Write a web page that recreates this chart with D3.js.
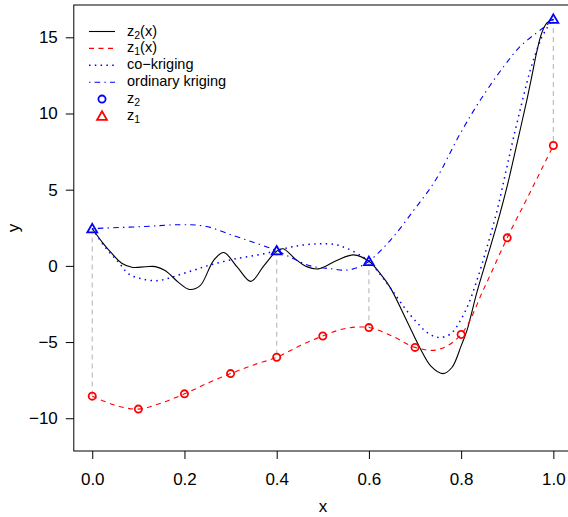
<!DOCTYPE html>
<html>
<head>
<meta charset="utf-8">
<title>co-kriging</title>
<script src="https://cdn.jsdelivr.net/npm/d3@7"></script>
<style>
  body { margin: 0; background: #fff; }
  svg { font-family: "Liberation Sans", Arial, sans-serif; }
</style>
</head>
<body>
<script>
// curves
var z2X = [0, 0.021, 0.042, 0.064, 0.086, 0.115, 0.137, 0.158, 0.187, 0.211, 0.234, 0.263, 0.285, 0.315, 0.344, 0.372, 0.4, 0.414, 0.44, 0.465, 0.49, 0.53, 0.567, 0.6, 0.625, 0.646, 0.682, 0.711, 0.735, 0.76, 0.78, 0.8, 0.813, 0.834, 0.856, 0.878, 0.9, 0.921, 0.943, 0.954, 0.964, 0.975, 0.986, 1.0];
var z2Y = [2.45, 1.58, 0.83, 0.17, -0.09, -0.06, -0.05, -0.31, -1.08, -1.55, -1.3, 0.35, 0.88, -0.1, -1.02, 0.0, 0.97, 1.12, 0.46, -0.05, -0.2, 0.35, 0.72, 0.3, -0.53, -1.41, -3.6, -5.4, -6.6, -7.07, -6.67, -5.25, -4.2, -1.75, 0.5, 2.75, 5.25, 8.0, 10.95, 12.55, 14.05, 15.3, 15.95, 16.2];

var z1X = [0, 0.05, 0.1, 0.15, 0.2, 0.25, 0.3, 0.35, 0.4, 0.45, 0.5, 0.55, 0.6, 0.65, 0.7, 0.75, 0.8, 0.85, 0.9, 0.95, 1.0];
var z1Y = [-8.55, -9.15, -9.4, -9.0, -8.4, -7.7, -7.07, -6.5, -6.0, -5.25, -4.6, -4.1, -4.05, -4.6, -5.35, -5.5, -4.5, -1.45, 1.84, 4.85, 7.9];

var ckX = [0, 0.028, 0.057, 0.079, 0.108, 0.14, 0.166, 0.194, 0.223, 0.249, 0.31, 0.372, 0.4, 0.44, 0.49, 0.527, 0.552, 0.582, 0.6, 0.632, 0.661, 0.682, 0.704, 0.726, 0.751, 0.777, 0.798, 0.816, 0.834, 0.856, 0.878, 0.896, 0.914, 0.935, 0.95, 0.964, 0.975, 0.986, 1.0];
var ckY = [2.45, 1.22, 0.24, -0.53, -0.86, -0.97, -0.81, -0.53, -0.26, 0.0, 0.46, 0.79, 1.0, 1.29, 1.45, 1.4, 1.15, 0.68, 0.3, -0.86, -2.06, -2.94, -3.71, -4.37, -4.7, -4.47, -3.6, -2.5, -0.97, 1.22, 3.64, 6.05, 8.46, 11.1, 12.85, 14.15, 15.0, 15.6, 16.2];

var okX = [0, 0.111, 0.19, 0.245, 0.306, 0.354, 0.4, 0.437, 0.473, 0.52, 0.55, 0.574, 0.6, 0.646, 0.697, 0.744, 0.798, 0.842, 0.892, 0.928, 0.964, 0.986, 1.0];
var okY = [2.45, 2.58, 2.7, 2.6, 1.99, 1.5, 1.0, 0.46, 0.0, -0.2, -0.28, -0.13, 0.3, 1.66, 3.64, 5.6, 8.68, 10.9, 13.07, 14.4, 15.3, 15.8, 16.2];

// observations
var obs2X = [0, 0.4, 0.6, 1.0];
var obs2Y = [2.45, 1.0, 0.3, 16.2];
var obs1X = [0, 0.1, 0.2, 0.3, 0.4, 0.5, 0.6, 0.7, 0.8, 0.9, 1.0];
var obs1Y = [-8.55, -9.4, -8.4, -7.07, -6.0, -4.6, -4.05, -5.35, -4.5, 1.84, 7.9];
var obs1AtObs2Y = [-8.55, -6.0, -4.05, 7.9];

var xTicks = [0, 0.2, 0.4, 0.6, 0.8, 1.0];
var yTicks = [-10, -5, 0, 5, 10, 15];

var width = 568, height = 517;

var svg = d3.select("body").append("svg")
  .attr("width", width)
  .attr("height", height);

var x = d3.scaleLinear().domain([-0.04, 1.04]).range([73.8, 571.8]);
var y = d3.scaleLinear().domain([-12.15, 17.12]).range([451, 5]);

function zip(xs, ys) { return xs.map(function(v, i) { return [v, ys[i]]; }); }

var line = d3.line()
  .x(function(d) { return x(d[0]); })
  .y(function(d) { return y(d[1]); })
  .curve(d3.curveCatmullRom.alpha(0.5));

// gray connectors
svg.append("g").selectAll("line")
  .data(obs2X)
  .enter().append("line")
  .attr("x1", function(d) { return x(d); })
  .attr("x2", function(d) { return x(d); })
  .attr("y1", function(d, i) { return y(obs2Y[i]); })
  .attr("y2", function(d, i) { return y(obs1AtObs2Y[i]); })
  .attr("stroke", "#bebebe")
  .attr("stroke-width", 1.2)
  .attr("stroke-dasharray", "5,4");

svg.append("path").datum(zip(z2X, z2Y))
  .attr("d", line).attr("fill", "none")
  .attr("stroke", "#000").attr("stroke-width", 1.1);

svg.append("path").datum(zip(z1X, z1Y))
  .attr("d", line).attr("fill", "none")
  .attr("stroke", "#ff0000").attr("stroke-width", 1.1)
  .attr("stroke-dasharray", "5,4.5");

svg.append("path").datum(zip(ckX, ckY))
  .attr("d", line).attr("fill", "none")
  .attr("stroke", "#0000ff").attr("stroke-width", 1.5)
  .attr("stroke-dasharray", "1.5,4.3");

svg.append("path").datum(zip(okX, okY))
  .attr("d", line).attr("fill", "none")
  .attr("stroke", "#0000ff").attr("stroke-width", 1.1)
  .attr("stroke-dasharray", "1.4,4.2,5.6,4.2");

var tri = d3.symbol().type(d3.symbolTriangle).size(42);

svg.append("g").selectAll("circle")
  .data(obs1X)
  .enter().append("circle")
  .attr("cx", function(d) { return x(d); })
  .attr("cy", function(d, i) { return y(obs1Y[i]); })
  .attr("r", 3.6)
  .attr("fill", "none")
  .attr("stroke", "#ff0000")
  .attr("stroke-width", 1.8);

svg.append("g").selectAll("path")
  .data(obs2X)
  .enter().append("path")
  .attr("d", tri)
  .attr("transform", function(d, i) { return "translate(" + x(d) + "," + (y(obs2Y[i]) + 1) + ")"; })
  .attr("fill", "none")
  .attr("stroke", "#0000ff")
  .attr("stroke-width", 1.8);

// box
svg.append("rect")
  .attr("x", 73.8).attr("y", 5)
  .attr("width", 571.8 - 73.8).attr("height", 446)
  .attr("fill", "none").attr("stroke", "#000").attr("stroke-width", 1);

// axes
var xAxis = svg.append("g")
  .attr("transform", "translate(0,451)")
  .call(d3.axisBottom(x).tickValues(xTicks).tickSize(8).tickPadding(14).tickFormat(d3.format(".1f")));
var yAxis = svg.append("g")
  .attr("transform", "translate(73.8,0)")
  .call(d3.axisLeft(y).tickValues(yTicks).tickSize(8).tickPadding(8));

[xAxis, yAxis].forEach(function(a) {
  a.select(".domain").remove();
  a.selectAll("text").attr("font-size", 17).attr("fill", "#000")
    .attr("font-family", "Liberation Sans, Arial, sans-serif");
  a.selectAll("line").attr("stroke", "#000");
});

svg.append("text")
  .attr("x", 323).attr("y", 512)
  .attr("text-anchor", "middle").attr("font-size", 17)
  .text("x");

svg.append("text")
  .attr("transform", "translate(19,228) rotate(-90)")
  .attr("text-anchor", "middle").attr("font-size", 17)
  .text("y");

// legend
var legMain = ["z", "z", "co\u2212kriging", "ordinary kriging", "z", "z"];
var legSub = ["2", "1", "", "", "2", "1"];
var legTail = ["(x)", "(x)", "", "", "", ""];

var leg = svg.append("g");
var rowY = function(i) { return 31.5 + i * 16.9; };

leg.append("line").attr("x1", 89).attr("x2", 115).attr("y1", rowY(0)).attr("y2", rowY(0))
  .attr("stroke", "#000").attr("stroke-width", 1.1);
leg.append("line").attr("x1", 89).attr("x2", 115).attr("y1", rowY(1)).attr("y2", rowY(1))
  .attr("stroke", "#ff0000").attr("stroke-width", 1.1).attr("stroke-dasharray", "5,4.5");
leg.append("line").attr("x1", 89).attr("x2", 115).attr("y1", rowY(2)).attr("y2", rowY(2))
  .attr("stroke", "#0000ff").attr("stroke-width", 1.5).attr("stroke-dasharray", "1.5,4.3");
leg.append("line").attr("x1", 89).attr("x2", 115).attr("y1", rowY(3)).attr("y2", rowY(3))
  .attr("stroke", "#0000ff").attr("stroke-width", 1.1).attr("stroke-dasharray", "1.4,4.2,5.6,4.2");
leg.append("circle").attr("cx", 102).attr("cy", rowY(4)).attr("r", 3.6)
  .attr("fill", "none").attr("stroke", "#0000ff").attr("stroke-width", 1.8);
leg.append("path").attr("d", tri)
  .attr("transform", "translate(102," + (rowY(5) + 1) + ")")
  .attr("fill", "none").attr("stroke", "#ff0000").attr("stroke-width", 1.8);

legMain.forEach(function(t, i) {
  var txt = leg.append("text")
    .attr("x", 127).attr("y", rowY(i) + 4)
    .attr("font-size", 14.5);
  txt.append("tspan").text(t);
  if (legSub[i]) {
    txt.append("tspan").attr("font-size", 10.5).attr("dy", 3).text(legSub[i]);
    if (legTail[i]) txt.append("tspan").attr("dy", -3).text(legTail[i]);
  }
});
</script>
</body>
</html>
